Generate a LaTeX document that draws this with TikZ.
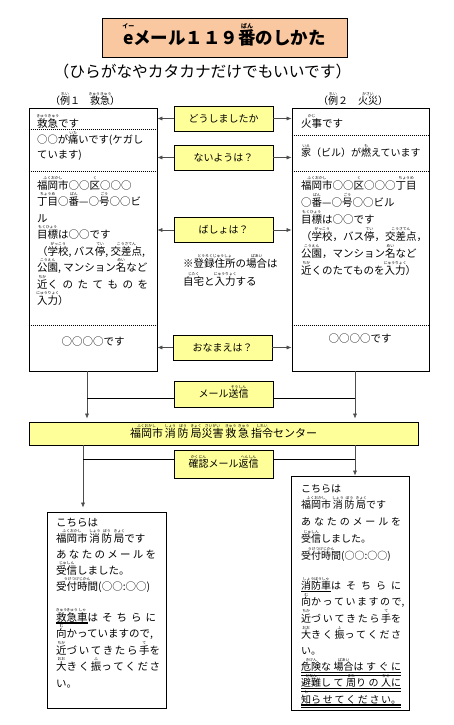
\documentclass[tikz,border=0pt]{standalone}
\usepackage{fontspec}
\usepackage{graphicx}
\setmainfont{Noto Sans CJK JP}
\usetikzlibrary{arrows.meta,calc}
\definecolor{yel}{HTML}{FFFF99}
\definecolor{peach}{RGB}{250,200,160}
\newcommand\rb[3][3.8]{\leavevmode\setbox0\hbox{#2}\hbox to \wd0{\hss\raisebox{0.92em}[0pt][0pt]{\makebox[0pt]{\fontsize{#1}{#1}\selectfont #3}}\hss}\kern-\wd0\box0}
\newcommand\ulk[1]{\setbox0\hbox{#1}\rlap{\raisebox{-2.6pt}{\rule{\wd0}{1.2pt}}}\box0}
\newcommand\uld[1]{\setbox0\hbox{#1}\rlap{\raisebox{-2.6pt}{\rule{\wd0}{1.2pt}}}\rlap{\raisebox{-4.6pt}{\rule{\wd0}{0.5pt}}}\box0}
\newcommand\jl[1]{\makebox[100pt][s]{#1}}
\newcommand\ci{\makebox[1em]{○}}
\begin{document}
\begin{tikzpicture}[x=1pt,y=-1pt,
 qbox/.style={draw,fill=yel,minimum width=99pt,minimum height=25pt,inner sep=0pt,line width=0.7pt,font=\fontsize{10}{12}\selectfont},
 frame/.style={draw,inner sep=0pt,line width=0.7pt},
 txt/.style={anchor=north west,inner sep=0pt,align=left},
 conn/.style={draw=black!70,line width=0.6pt},
 arr/.style={conn,-{Latex[length=5pt,width=4pt]}},
 dots/.style={line width=0.6pt,dash pattern=on 1pt off 1pt}]
\useasboundingbox (0,0) rectangle (453,725);
\fill[white] (0,0) rectangle (453,725);
% title
\node[draw,fill=peach,minimum width=245pt,minimum height=39pt,inner sep=0pt,line width=0.8pt,font=\fontsize{17.5}{20}\selectfont\bfseries] (title) at (224.5,37.5) {\raisebox{-4pt}{\rb[6]{e}{イー}メール１１９\rb[6]{番}{ばん}のしかた}};
\node[font=\fontsize{15.7}{18}\selectfont] (sub) at (202.5,72) {（ひらがなやカタカナだけでもいいです）};
\node[font=\fontsize{10}{12}\selectfont] (ex1) at (85,101) {（\rb{例}{れい}１　\rb{救急}{きゅうきゅう}）};
\node[font=\fontsize{10}{12}\selectfont] (ex2) at (353,101) {（\rb{例}{れい}２　\rb{火災}{かさい}）};
% side boxes
\node[frame,minimum width=128pt,minimum height=263pt] (lbox) at (93,239.5) {};
\node[frame,minimum width=137pt,minimum height=263pt] (rbox) at (360.5,239.5) {};
\foreach \o in {22,64,218}{\draw[dots] ($(lbox.north west)+(0,\o)$) -- ($(lbox.north east)+(0,\o)$);}
\foreach \o in {28,64,218}{\draw[dots] ($(rbox.north west)+(0,\o)$) -- ($(rbox.north east)+(0,\o)$);}
% question boxes
\node[qbox] (q1) at (223.5,118.5) {どうしましたか};
\node[qbox] (q2) at (223.5,157.5) {ないようは？};
\node[qbox] (q3) at (223.5,230) {ばしょは？};
\node[qbox] (q4) at (222.5,347.5) {おなまえは？};
\foreach \q in {q1,q2,q3,q4}{
  \draw[arr] (\q.west) -- (\q.west -| lbox.east);
  \draw[arr] (\q.east) -- (\q.east -| rbox.west);}
\node[txt,font=\fontsize{10.5}{18}\selectfont] (note) at (183,258) {※\rb{登録住所}{とうろくじゅうしょ}の\rb{場合}{ばあい}は\\\rb{自宅}{じたく}と\rb{入力}{にゅうりょく}する};
% left texts
\node[txt,font=\fontsize{10.5}{14}\selectfont] (l1) at (37,118) {\rb{救急}{きゅうきゅう}です};
\node[txt,font=\fontsize{10.3}{14.5}\selectfont] (l2) at (37,135) {\ci\ci が\rb{痛}{いた}いです(ケガし\\ています)};
\node[txt,font=\fontsize{10.5}{16.5}\selectfont] (l3) at (37,180) {\rb{福岡市}{ふくおかし}\ci\ci\rb{区}{く}\ci\ci\ci\\\rb{丁目}{ちょうめ}\ci\rb{番}{ばん}—\ci\rb{号}{ごう}\ci\ci ビ\\ル\\\rb{目標}{もくひょう}は\ci\ci です\\（\rb{学校}{がっこう}, バス\rb{停}{てい}, \rb{交差点}{こうさてん},\\\rb{公園}{こうえん}, マンション\rb{名}{めい}など\\\makebox[111pt][s]{\rb{近}{ちか} く の た て も の を}\\\rb{入力}{にゅうりょく}）};
\node[font=\fontsize{10.5}{12}\selectfont] (l4) at (93,342) {\ci\ci\ci\ci です};
% right texts
\node[txt,font=\fontsize{10.5}{14}\selectfont] (r1) at (301,118) {\rb{火事}{かじ}です};
\node[txt,font=\fontsize{10}{14}\selectfont] (r2) at (301,148) {\rb{家}{いえ}（ビル）が\rb{燃}{も}えています};
\node[txt,font=\fontsize{10.5}{17}\selectfont] (r3) at (301,180) {\rb{福岡市}{ふくおかし}\ci\ci\rb{区}{く}\ci\ci\ci\rb{丁目}{ちょうめ}\\\ci\rb{番}{ばん}—\ci\rb{号}{ごう}\ci\ci ビル\\\rb{目標}{もくひょう}は\ci\ci です\\（\rb{学校}{がっこう}，バス\rb{停}{てい}，\rb{交差点}{こうさてん}，\\\rb{公園}{こうえん}，マンション\rb{名}{めい}など\\\rb{近}{ちか}くのたてものを\rb{入力}{にゅうりょく}）};
\node[font=\fontsize{10.5}{12}\selectfont] (r4) at (360,339) {\ci\ci\ci\ci です};
% send / center / reply
\node[qbox,minimum height=26pt] (send) at (223.5,394) {メール\rb{送信}{そうしん}};
\node[draw,fill=yel,minimum width=389pt,minimum height=23pt,inner sep=0pt,line width=0.7pt,font=\fontsize{11}{13}\selectfont] (ctr) at (223.5,433.5) {\rb{福岡市}{ふくおかし}\,\rb{消}{しょう}\,\rb{防}{ぼう}\,\rb{局}{きょく}\rb{災害}{さいがい}\,\rb{救}{きゅう}\,\rb{急}{きゅう}\,\rb{指令}{しれい}センター};
\node[qbox,minimum height=28pt] (reply) at (223.5,464) {\rb{確認}{かくにん}メール\rb{返信}{へんしん}};
\coordinate (xa) at (87,0);
\coordinate (xb) at (355,0);
\coordinate (xc) at (83,0);
\coordinate (sl) at ($(send.west)+(0,4)$);
\coordinate (sr) at ($(send.east)+(0,4)$);
\coordinate (rl) at ($(reply.west)+(0,-5)$);
\coordinate (rr) at ($(reply.east)+(0,-5)$);
\draw[arr,shorten >=3pt] (lbox.south -| xa) -- (ctr.north -| xa);
\draw[arr,shorten >=3pt] (rbox.south -| xb) -- (ctr.north -| xb);
\draw[conn,black] (sl -| xa) -- (sl);
\draw[conn,black] (sr) -- (sr -| xb);
% bottom boxes
\node[frame,minimum width=119pt,minimum height=196pt] (lb2) at (106.5,610) {};
\node[frame,minimum width=118pt,minimum height=234pt] (rb2) at (350,593) {};
\draw[arr,shorten >=4pt] (ctr.south -| xc) -- (lb2.north -| xc);
\draw[arr] (ctr.south -| xb) -- (rb2.north -| xb);
\draw[conn,black] (rl -| xc) -- (rl);
\draw[conn,black] (rr) -- (rr -| xb);
\node[txt,font=\fontsize{10.5}{16}\selectfont] (b1) at (56,518) {こちらは\\\rb{福岡市}{ふくおかし}\,\rb{消}{しょう}\,\rb{防}{ぼう}\,\rb{局}{きょく}です\\\jl{あ な た の メ ー ル を}\\\rb{受信}{じゅしん}しました。\\\rb{受付時間}{うけつけじかん}(\ci\ci:\ci\ci)};
\node[txt,font=\fontsize{10.5}{16.5}\selectfont] (b2) at (56,612) {\jl{\ulk{\rb{救}{きゅう} \rb{急}{きゅう} \rb{車}{しゃ}} は そ ち ら に}\\\rb{向}{む}かっていますので,\\\jl{\rb{近}{ちか} づ い て き た ら \rb{手}{て} を}\\\jl{\rb{大}{おお} き く \rb{振}{ふ} っ て く だ さ}\\い。};
\node[txt,font=\fontsize{10}{16.8}\selectfont] (c1) at (301,484) {こちらは\\\rb{福岡市}{ふくおかし}\,\rb{消}{しょう}\,\rb{防}{ぼう}\,\rb{局}{きょく}です\\\jl{あ な た の メ ー ル を}\\\rb{受信}{じゅしん}しました。\\\rb{受付時間}{うけつけじかん}(\ci\ci:\ci\ci)};
\node[txt,font=\fontsize{10}{16.2}\selectfont] (c2) at (301,581) {\jl{\ulk{\rb{消防車}{しょうぼうしゃ}} は そ ち ら に}\\\jl{\rb{向}{む} か っ て い ま す の で,}\\\jl{\rb{近}{ちか} づ い て き た ら \rb{手}{て} を}\\\jl{\rb{大}{おお} き く \rb{振}{ふ} っ て く だ さ}\\い。\\\uld{\jl{\rb{危険}{きけん} な \rb{場合}{ばあい} は す ぐ に}}\\\uld{\jl{\rb{避難}{ひなん} し て \rb{周}{まわ} り の \rb{人}{ひと} に}}\\\uld{\jl{\rb{知}{し} ら せ て く だ さ い。}}};
\end{tikzpicture}
\end{document}
